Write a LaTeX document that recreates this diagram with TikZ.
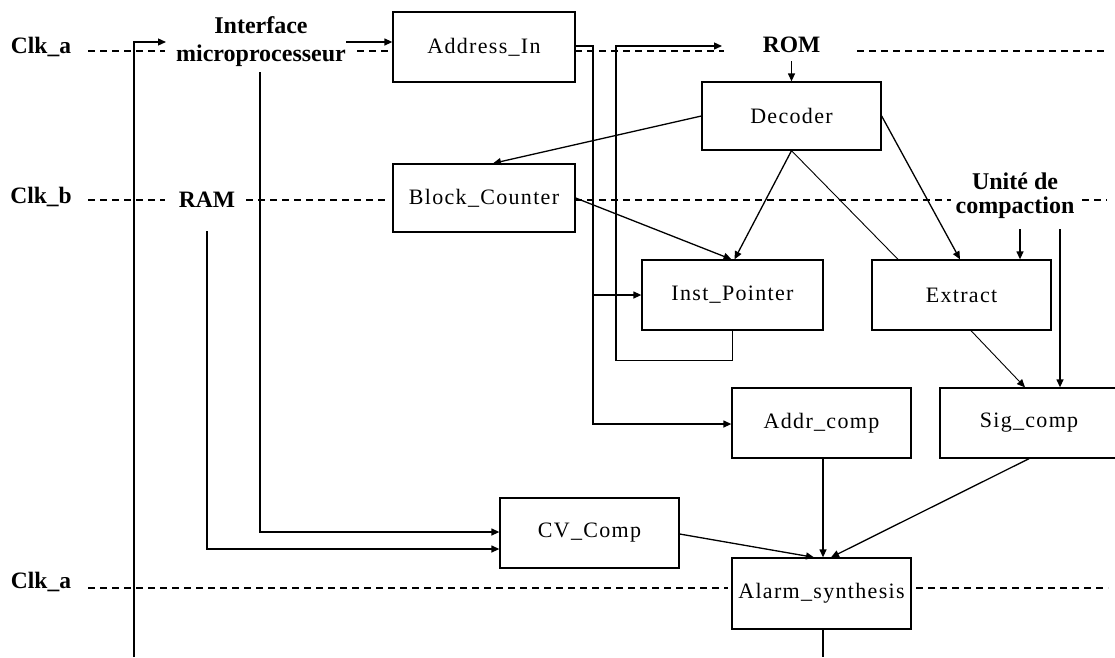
\documentclass[tikz,border=0pt]{standalone}
\usepackage{fontspec}
\setmainfont{Liberation Serif}
\newfontfamily\boxfont[LetterSpace=6]{Liberation Serif}
\usetikzlibrary{arrows.meta}
\begin{document}
\begin{tikzpicture}[x=1pt,y=-1pt,
  blk/.style={draw, line width=1.3pt, minimum width=#1, minimum height=70pt, inner sep=0pt,
    font=\boxfont\fontsize{22}{26}\selectfont},
  lbl/.style={inner sep=0pt, font=\bfseries\fontsize{23.5}{27}\selectfont},
  clk/.style={dash pattern=on 7pt off 5pt, line width=1.2pt},
  wire/.style={line width=1.3pt},
  arr/.style={wire, -{Triangle[length=8pt,width=7pt]}},
  thinwire/.style={line width=0.9pt}]
\useasboundingbox (0,0) rectangle (1115,657);

% clock dashed lines
\draw[clk] (88,51) -- (165,51);
\draw[clk] (357,51) -- (393,51);
\draw[clk] (575,51) -- (724,51);
\draw[clk] (857,51) -- (1107,51);
\draw[clk] (88,200) -- (165,200);
\draw[clk] (246,200) -- (389,200);
\draw[clk] (575,200) -- (951,200);
\draw[clk] (1082,200) -- (1107,200);
\draw[clk] (88,588) -- (728,588);
\draw[clk] (916,588) -- (1108,588);

% labels
\node[lbl, anchor=base] (clka) at (41,53) {Clk\_a};
\node[lbl, anchor=base] (clkb) at (41,203) {Clk\_b};
\node[lbl, anchor=base] (clkc) at (41,588) {Clk\_a};
\node[lbl, align=center, font=\bfseries\fontsize{24}{28}\selectfont] (iface) at (261,41.5) {Interface\\microprocesseur};
\node[lbl, anchor=base] (ram) at (207,207) {RAM};
\node[lbl, anchor=base] (rom) at (791.5,52) {ROM};
\node[lbl, align=center, font=\bfseries\fontsize{24}{24}\selectfont] (unite) at (1015,196) {Unité de\\compaction};

% blocks
\node[blk=182pt] (addrin) at (484,47) {Address\_In};
\node[blk=182pt, minimum height=68pt] (blockc) at (484,198) {Block\_Counter};
\node[blk=179pt, minimum height=68pt] (decoder) at (791.5,116) {Decoder};
\node[blk=181pt] (instp) at (732.5,295) {Inst\_Pointer};
\node[blk=179pt] (extract) at (961.5,295) {Extract};
\node[blk=179pt] (addrc) at (821.5,423) {Addr\_comp};
\node[blk=178pt] (sigc) at (1029,423) {Sig\_comp};
\node[blk=179pt] (cvc) at (589.5,533) {CV\_Comp};
\node[blk=179pt, minimum height=71pt] (alarm) at (821.5,593.5) {Alarm\_synthesis};

% helper coordinates
\coordinate (lbot) at (134,657);
\coordinate (ifin) at (166,42);
\coordinate (ifdn) at (260,72);
\coordinate (busA) at (593,46);
\coordinate (busB) at (593,424);
\coordinate (lpX) at (616,46);
\coordinate (romin) at (722,46);
\coordinate (un1) at (1020,229);
\coordinate (un2) at (1060,229);
\coordinate (out) at (823,657);

% connectors
\draw[arr] (lbot) |- (ifin);
\draw[arr] (iface.east |- 0,42) -- ([yshift=5pt]addrin.west);
\draw[arr] (ifdn) |- ([yshift=1pt]cvc.west);
\draw[arr] ([yshift=-24pt]ram.south) |- ([yshift=-16pt]cvc.west);
\draw[arr] (addrin.east |- busA) -- (busA) -- (busB) -- (addrc.west |- busB);
\draw[arr] (busA |- instp.west) -- (instp.west);
\draw[arr] (instp.south) -- ++(0,30) -| (lpX) -- (romin);
\draw[arr] ([yshift=-9pt]rom.south) -- (decoder.north);
\draw[arr] (decoder.west) -- ([xshift=9pt]blockc.north);
\draw[arr] (blockc.east) -- ([xshift=-1pt]instp.north);
\draw[arr] (decoder.south) -- ([xshift=2pt]instp.north);
\draw[thinwire] (decoder.south) -- ([xshift=-63.5pt]extract.north);
\draw[arr] (decoder.east) -- ([xshift=-1.5pt]extract.north);
\draw[arr] (un1) -- (un1 |- extract.north);
\draw[arr] (un2) -- (un2 |- sigc.north);
\draw[arr, thinwire] ([xshift=9.5pt]extract.south) -- ([xshift=-4pt]sigc.north);
\draw[arr] ([xshift=1.5pt]addrc.south) -- ([xshift=1.5pt]alarm.north);
\draw[arr] (sigc.south) -- ([xshift=9.5pt]alarm.north);
\draw[arr] ([yshift=-1pt]cvc.east) -- ([xshift=-7.5pt]alarm.north);
\draw[wire] ([xshift=1.5pt]alarm.south) -- (out);
\end{tikzpicture}
\end{document}
